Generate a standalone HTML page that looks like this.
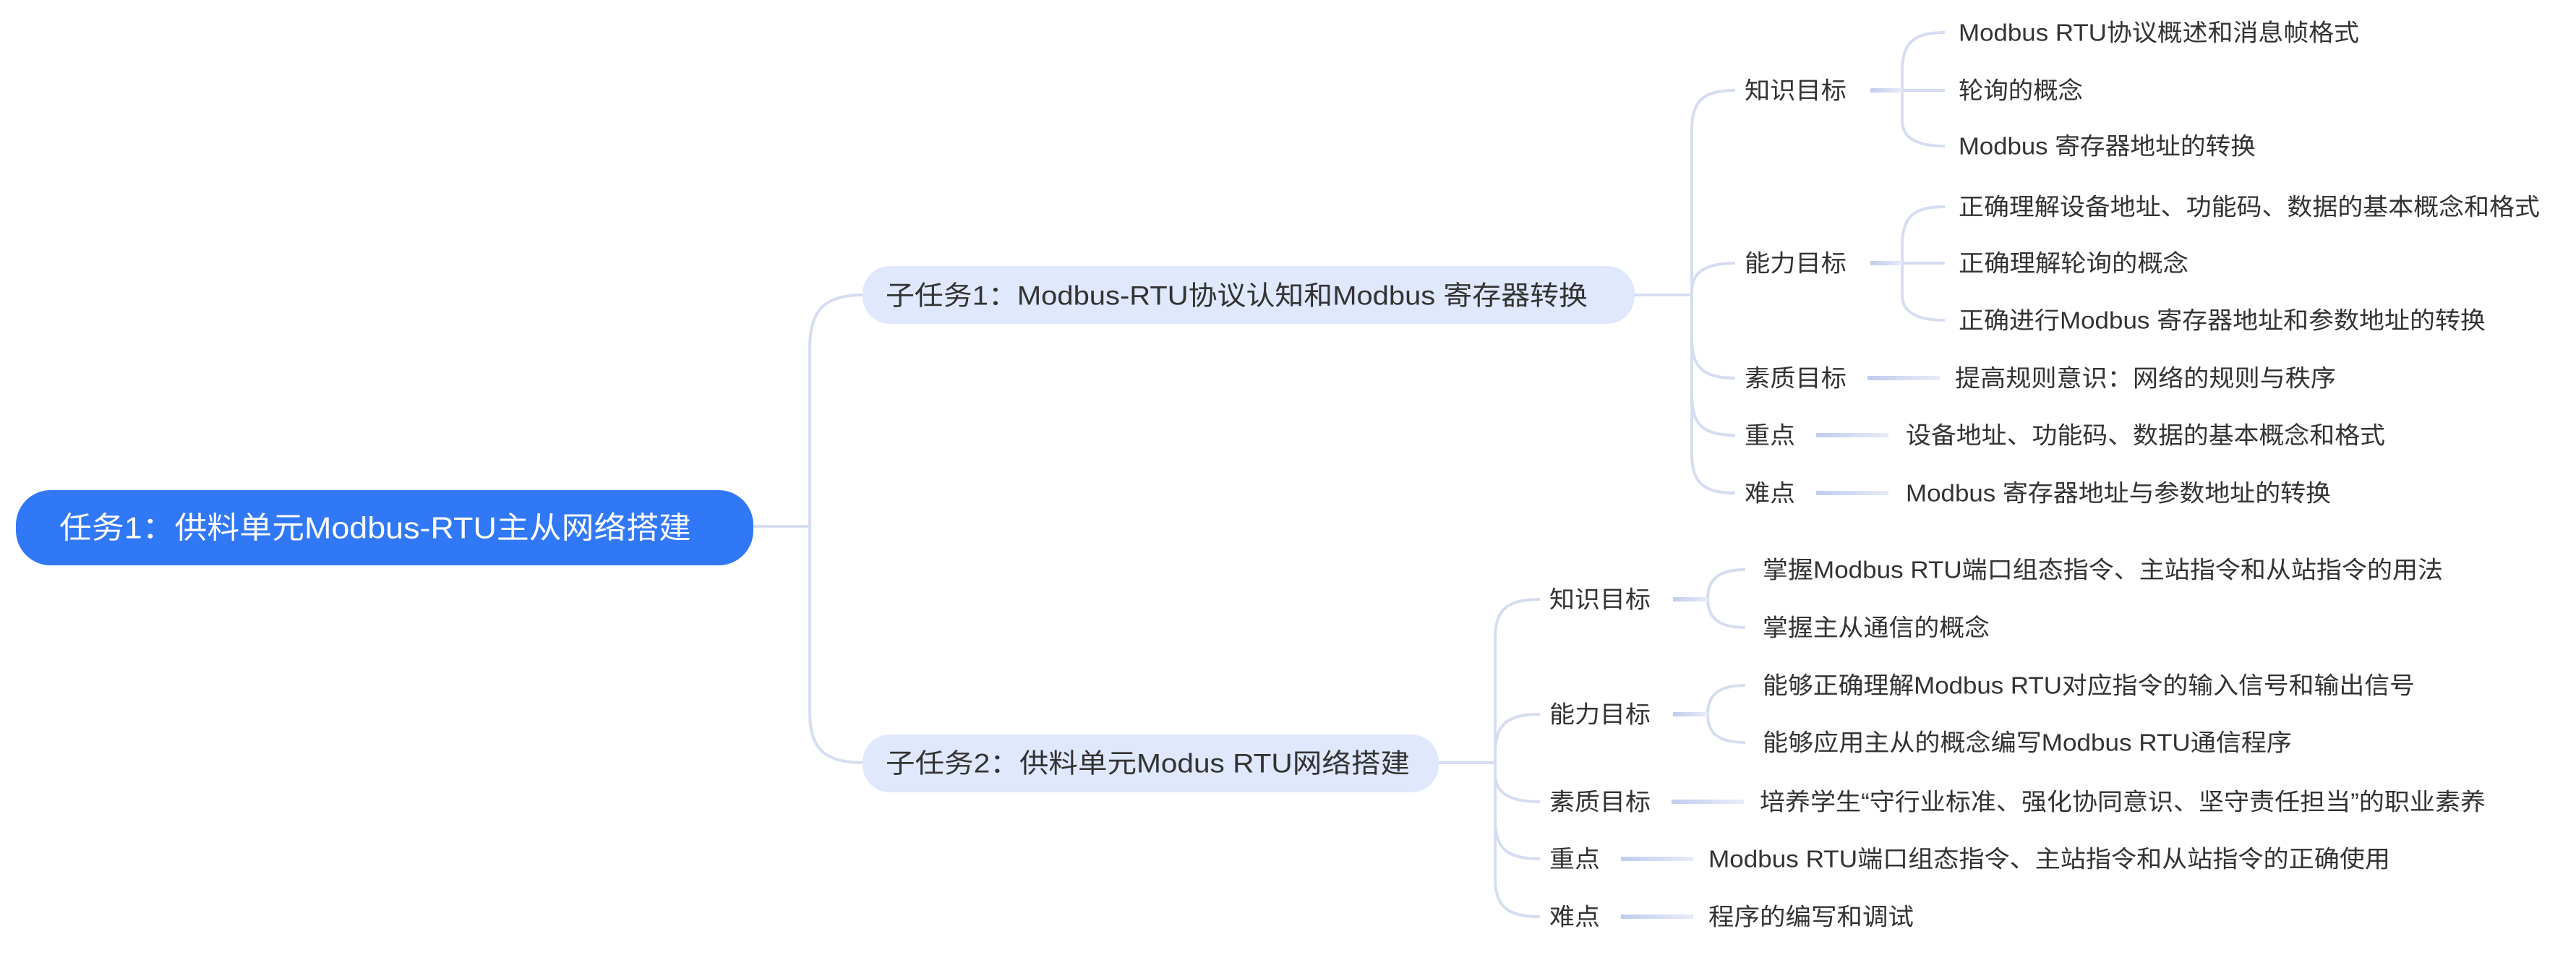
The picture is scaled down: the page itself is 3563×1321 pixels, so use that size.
<!DOCTYPE html>
<html><head><meta charset="utf-8"><style>
html,body{margin:0;padding:0;background:#fff;}
svg{display:block;}
text{font-family:"Liberation Sans","Noto Sans CJK SC",sans-serif;fill:#333;dominant-baseline:central;}
</style></head><body>
<svg width="3563" height="1321" viewBox="0 0 3563 1321" xmlns="http://www.w3.org/2000/svg">
<defs>
<linearGradient id="g" x1="0" x2="1" y1="0" y2="0"><stop offset="0" stop-color="#c0ccee"/><stop offset="1" stop-color="#e8ecf8"/></linearGradient>
</defs>
<g fill="none" stroke="#d6ddf0" stroke-width="4">
<path d="M1041,728 H1120"/>
<path d="M1193,408 C1140,408 1120,430 1120,480 V985 C1120,1035 1140,1055 1193,1055"/>
<path d="M2261,408 H2340"/>
<path d="M2400,125 C2355,125 2340,140 2340,180 V627 C2340,667 2355,682 2400,682"/>
<path d="M2340,404 C2340,379 2355,364 2400,364"/>
<path d="M2340,468 C2340,508 2355,523 2400,523"/>
<path d="M2340,547 C2340,587 2355,602 2400,602"/>
<path d="M2690,45 C2645,45 2631,60 2631,100 V167 C2631,187 2645,202 2690,202"/>
<path d="M2631,125 H2690"/>
<path d="M2690,286 C2645,286 2631,301 2631,341 V408 C2631,428 2645,443 2690,443"/>
<path d="M2631,364 H2690"/>
<path d="M1990,1055 H2068"/>
<path d="M2130,829 C2083,829 2068,844 2068,884 V1213 C2068,1253 2083,1268 2130,1268"/>
<path d="M2068,1043 C2068,1003 2083,988 2130,988"/>
<path d="M2068,1070 C2068,1094 2083,1109 2130,1109"/>
<path d="M2068,1133 C2068,1173 2083,1188 2130,1188"/>
<path d="M2414,788 C2375,788 2362,803 2362,828 C2362,853 2375,868 2414,868"/>
<path d="M2414,948 C2375,948 2362,963 2362,988 C2362,1013 2375,1027 2414,1027"/>
</g>
<g fill="url(#g)">
<rect x="2587" y="122" width="44" height="6"/><rect x="2587" y="361" width="44" height="6"/>
<rect x="2583" y="520" width="100" height="6"/>
<rect x="2512" y="599" width="100" height="6"/><rect x="2512" y="679" width="100" height="6"/>
<rect x="2314" y="826" width="48" height="6"/><rect x="2314" y="985" width="48" height="6"/>
<rect x="2312" y="1106" width="100" height="6"/>
<rect x="2242" y="1185" width="100" height="6"/><rect x="2242" y="1265" width="100" height="6"/>
</g>
<rect x="22" y="678" width="1020" height="104" rx="48" fill="#3178f6"/>
<text x="82" y="730" font-size="42" style="fill:#fff" textLength="874" lengthAdjust="spacingAndGlyphs">任务1：供料单元Modbus-RTU主从网络搭建</text>
<rect x="1193" y="368" width="1068" height="80" rx="38" fill="#e0e8fd"/>
<text x="1225" y="409" font-size="37" textLength="971" lengthAdjust="spacingAndGlyphs">子任务1：Modbus-RTU协议认知和Modbus 寄存器转换</text>
<rect x="1193" y="1016" width="797" height="80" rx="38" fill="#e0e8fd"/>
<text x="1225" y="1056" font-size="37" textLength="725" lengthAdjust="spacingAndGlyphs">子任务2：供料单元Modus  RTU网络搭建</text>
<g font-size="33">
<text x="2413" y="125" textLength="141" lengthAdjust="spacingAndGlyphs">知识目标</text>
<text x="2413" y="364" textLength="141" lengthAdjust="spacingAndGlyphs">能力目标</text>
<text x="2413" y="523" textLength="141" lengthAdjust="spacingAndGlyphs">素质目标</text>
<text x="2413" y="602" textLength="70" lengthAdjust="spacingAndGlyphs">重点</text>
<text x="2413" y="682" textLength="70" lengthAdjust="spacingAndGlyphs">难点</text>
<text x="2709" y="45" textLength="554" lengthAdjust="spacingAndGlyphs">Modbus RTU协议概述和消息帧格式</text>
<text x="2709" y="125" textLength="172" lengthAdjust="spacingAndGlyphs">轮询的概念</text>
<text x="2709" y="202" textLength="411" lengthAdjust="spacingAndGlyphs">Modbus 寄存器地址的转换</text>
<text x="2709" y="286" textLength="804" lengthAdjust="spacingAndGlyphs">正确理解设备地址、功能码、数据的基本概念和格式</text>
<text x="2709" y="364" textLength="318" lengthAdjust="spacingAndGlyphs">正确理解轮询的概念</text>
<text x="2709" y="443" textLength="729" lengthAdjust="spacingAndGlyphs">正确进行Modbus 寄存器地址和参数地址的转换</text>
<text x="2704" y="523" textLength="527" lengthAdjust="spacingAndGlyphs">提高规则意识：网络的规则与秩序</text>
<text x="2636" y="602" textLength="663" lengthAdjust="spacingAndGlyphs">设备地址、功能码、数据的基本概念和格式</text>
<text x="2636" y="682" textLength="588" lengthAdjust="spacingAndGlyphs">Modbus 寄存器地址与参数地址的转换</text>
<text x="2143" y="829" textLength="140" lengthAdjust="spacingAndGlyphs">知识目标</text>
<text x="2143" y="988" textLength="140" lengthAdjust="spacingAndGlyphs">能力目标</text>
<text x="2143" y="1109" textLength="140" lengthAdjust="spacingAndGlyphs">素质目标</text>
<text x="2143" y="1188" textLength="70" lengthAdjust="spacingAndGlyphs">重点</text>
<text x="2143" y="1268" textLength="70" lengthAdjust="spacingAndGlyphs">难点</text>
<text x="2438" y="788" textLength="941" lengthAdjust="spacingAndGlyphs">掌握Modbus RTU端口组态指令、主站指令和从站指令的用法</text>
<text x="2438" y="868" textLength="314" lengthAdjust="spacingAndGlyphs">掌握主从通信的概念</text>
<text x="2438" y="948" textLength="902" lengthAdjust="spacingAndGlyphs">能够正确理解Modbus RTU对应指令的输入信号和输出信号</text>
<text x="2438" y="1027" textLength="732" lengthAdjust="spacingAndGlyphs">能够应用主从的概念编写Modbus RTU通信程序</text>
<text x="2434" y="1109" textLength="1004" lengthAdjust="spacingAndGlyphs">培养学生“守行业标准、强化协同意识、坚守责任担当”的职业素养</text>
<text x="2363" y="1188" textLength="943" lengthAdjust="spacingAndGlyphs">Modbus RTU端口组态指令、主站指令和从站指令的正确使用</text>
<text x="2363" y="1268" textLength="284" lengthAdjust="spacingAndGlyphs">程序的编写和调试</text>
</g>
</svg>
</body></html>
